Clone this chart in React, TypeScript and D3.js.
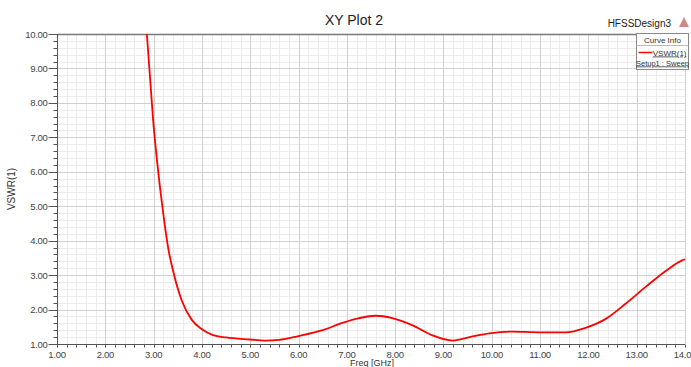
import React, { useRef, useEffect } from "react";
import * as d3 from "d3";

const freq = [2.86, 2.92, 2.99, 3.08, 3.18, 3.31, 3.4, 3.58, 3.79, 4.0, 4.23, 4.5, 5.0, 5.3, 5.6, 6.0, 6.5, 6.86, 7.19, 7.6, 7.94, 8.36, 8.77, 9.19, 9.6, 9.95, 10.43, 10.98, 11.53, 11.94, 12.36, 12.77, 13.18, 13.6, 13.94, 14.0];
const vswr = [10.0, 8.85, 7.5, 6.2, 5.0, 3.72, 3.14, 2.27, 1.7, 1.43, 1.26, 1.19, 1.13, 1.1, 1.12, 1.23, 1.4, 1.59, 1.73, 1.82, 1.75, 1.54, 1.25, 1.1, 1.22, 1.31, 1.36, 1.34, 1.34, 1.47, 1.73, 2.17, 2.65, 3.12, 3.43, 3.46];
const xTicks = [1, 2, 3, 4, 5, 6, 7, 8, 9, 10, 11, 12, 13, 14];
const yTicks = [1, 2, 3, 4, 5, 6, 7, 8, 9, 10];

const App = () => {
  const svgRef = useRef<SVGSVGElement>(null);

  useEffect(() => {
    const svg = d3.select(svgRef.current);
    svg.selectAll("*").remove();

    const width = 691;
    const height = 367;
    const margin = { top: 34, right: 6, bottom: 23, left: 57 };
    const font = "Liberation Sans, Arial, sans-serif";

    const x = d3.scaleLinear().domain([1, 14]).range([margin.left, width - margin.right]);
    const y = d3.scaleLinear().domain([1, 10]).range([height - margin.bottom, margin.top]);

    svg.append("rect").attr("width", width).attr("height", height).attr("fill", "#fff");

    // minor grid
    const xMinor = d3.range(1, 14.001, 0.2);
    const yMinor = d3.range(1, 10.001, 0.2);
    svg.append("g").selectAll("line").data(xMinor).enter().append("line")
      .attr("x1", d => Math.round(x(d)) + 0.5).attr("x2", d => Math.round(x(d)) + 0.5)
      .attr("y1", y(10)).attr("y2", y(1)).attr("stroke", "#ececec");
    svg.append("g").selectAll("line").data(yMinor).enter().append("line")
      .attr("y1", d => Math.round(y(d)) + 0.5).attr("y2", d => Math.round(y(d)) + 0.5)
      .attr("x1", x(1)).attr("x2", x(14)).attr("stroke", "#ececec");

    // major grid
    svg.append("g").selectAll("line").data(xTicks).enter().append("line")
      .attr("x1", d => Math.round(x(d)) + 0.5).attr("x2", d => Math.round(x(d)) + 0.5)
      .attr("y1", y(10)).attr("y2", y(1)).attr("stroke", "#d0d0d0");
    svg.append("g").selectAll("line").data(yTicks).enter().append("line")
      .attr("y1", d => Math.round(y(d)) + 0.5).attr("y2", d => Math.round(y(d)) + 0.5)
      .attr("x1", x(1)).attr("x2", x(14)).attr("stroke", "#d0d0d0");

    // frame
    svg.append("line").attr("x1", x(1)).attr("x2", x(14)).attr("y1", y(10) + 0.5).attr("y2", y(10) + 0.5)
      .attr("stroke", "#777").attr("stroke-width", 1.5);

    // left axis
    const yAxis = svg.append("g").attr("transform", `translate(${Math.round(x(1)) + 0.5},0)`);
    yAxis.append("line").attr("y1", y(10)).attr("y2", y(1)).attr("stroke", "#555");
    yAxis.selectAll(".mt").data(yMinor).enter().append("line")
      .attr("x1", -4).attr("x2", 0)
      .attr("y1", d => Math.round(y(d)) + 0.5).attr("y2", d => Math.round(y(d)) + 0.5).attr("stroke", "#555");
    yAxis.selectAll(".Mt").data(yTicks).enter().append("line")
      .attr("x1", -9).attr("x2", 0)
      .attr("y1", d => Math.round(y(d)) + 0.5).attr("y2", d => Math.round(y(d)) + 0.5).attr("stroke", "#555");
    yAxis.selectAll("text").data(yTicks).enter().append("text")
      .attr("x", -10).attr("y", d => y(d) + 3.5)
      .attr("text-anchor", "end").attr("font-family", font).attr("font-size", 9.5)
      .attr("fill", "#444").attr("letter-spacing", "-0.3")
      .text(d => d3.format(".2f")(d));

    // bottom axis
    const xAxis = svg.append("g").attr("transform", `translate(0,${Math.round(y(1)) + 0.5})`);
    xAxis.append("line").attr("x1", x(1)).attr("x2", x(14)).attr("stroke", "#555");
    xAxis.selectAll(".mt").data(xMinor).enter().append("line")
      .attr("y1", 0).attr("y2", 3)
      .attr("x1", d => Math.round(x(d)) + 0.5).attr("x2", d => Math.round(x(d)) + 0.5).attr("stroke", "#555");
    xAxis.selectAll("text").data(xTicks).enter().append("text")
      .attr("x", d => x(d)).attr("y", 13)
      .attr("text-anchor", "middle").attr("font-family", font).attr("font-size", 9.5)
      .attr("fill", "#444").attr("letter-spacing", "-0.3")
      .text(d => d3.format(".2f")(d));

    // curve
    const line = d3.line<number>()
      .x((d, i) => x(freq[i]))
      .y(d => y(d))
      .curve(d3.curveMonotoneX);
    svg.append("path").datum(vswr)
      .attr("d", line)
      .attr("fill", "none").attr("stroke", "#ff0000").attr("stroke-width", 1.8);

    // titles
    svg.append("text").attr("x", 354).attr("y", 25).attr("text-anchor", "middle")
      .attr("font-family", font).attr("font-size", 14).attr("fill", "#222").text("XY Plot 2");
    svg.append("text").attr("x", 671).attr("y", 27).attr("text-anchor", "end")
      .attr("font-family", font).attr("font-size", 10).attr("fill", "#222").text("HFSSDesign3");
    svg.append("path").attr("d", "M679,27 L684,17 L689,27 Z").attr("fill", "#b55").attr("opacity", 0.7);

    svg.append("text").attr("text-anchor", "middle")
      .attr("transform", `translate(15,${(y(1) + y(10)) / 2})rotate(-90)`)
      .attr("font-family", font).attr("font-size", 10).attr("fill", "#333").text("VSWR(1)");
    svg.append("text").attr("x", 372).attr("y", 366).attr("text-anchor", "middle")
      .attr("font-family", font).attr("font-size", 9).attr("fill", "#333").text("Freq [GHz]");

    // legend
    const lg = svg.append("g").attr("transform", "translate(636.5,33.5)");
    lg.append("rect").attr("width", 52).attr("height", 36).attr("fill", "#fff").attr("stroke", "#888");
    lg.append("line").attr("x1", 0).attr("x2", 52).attr("y1", 12).attr("y2", 12).attr("stroke", "#bbb");
    lg.append("text").attr("x", 26).attr("y", 9).attr("text-anchor", "middle")
      .attr("font-family", font).attr("font-size", 8).attr("fill", "#333").text("Curve Info");
    lg.append("line").attr("x1", 2).attr("x2", 16).attr("y1", 19).attr("y2", 19)
      .attr("stroke", "#ff0000").attr("stroke-width", 1.5);
    lg.append("text").attr("x", 50).attr("y", 22).attr("text-anchor", "end")
      .attr("font-family", font).attr("font-size", 8).attr("fill", "#333")
      .attr("text-decoration", "underline").text("VSWR(1)");
    lg.append("text").attr("x", 26).attr("y", 32).attr("text-anchor", "middle")
      .attr("font-family", font).attr("font-size", 7.5).attr("fill", "#333")
      .attr("text-decoration", "underline").text("Setup1 : Sweep");
  }, []);

  return (
    <svg ref={svgRef} width={691} height={367} style={{ position: "absolute", left: 0, top: 0 }}></svg>
  );
};

export default App;
